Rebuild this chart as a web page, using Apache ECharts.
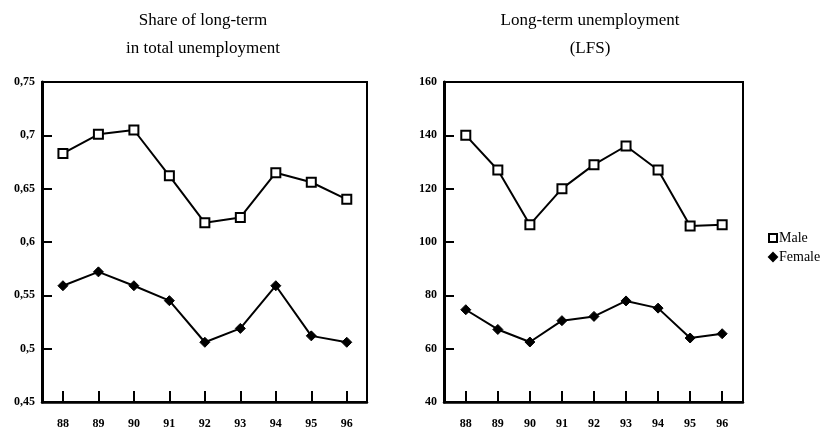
<!DOCTYPE html>
<html>
<head>
<meta charset="utf-8">
<script src="https://cdn.jsdelivr.net/npm/echarts@6/dist/echarts.min.js"></script>
<style>
  html, body { margin: 0; padding: 0; background: #fff; }
  #chart { width: 828px; height: 433px; }
</style>
</head>
<body>
<div id="chart"></div>
<script>
// Survey years (19xx)
const years = [88, 89, 90, 91, 92, 93, 94, 95, 96];

// Share of long-term in total unemployment
const shareMale   = [0.683, 0.701, 0.705, 0.662, 0.618, 0.623, 0.665, 0.656, 0.640];
const shareFemale = [0.559, 0.572, 0.559, 0.545, 0.506, 0.519, 0.559, 0.512, 0.506];

// Long-term unemployment (LFS), thousands
const ltuMale   = [140, 127, 106.5, 120, 129, 136, 127, 106, 106.5];
const ltuFemale = [74.6, 67.2, 62.5, 70.5, 72.1, 77.9, 75.2, 64, 65.6];

const serif = '"Liberation Serif", "DejaVu Serif", serif';
const pairs = (vals) => years.map((y, i) => [y, vals[i]]);

function xAxisFor(gridIndex, min, max) {
  return {
    type: 'value', gridIndex, min, max,
    splitLine: { show: false },
    axisLine: { show: true, onZero: false, lineStyle: { color: '#000', width: 2.5 } },
    axisTick: { show: true, inside: true, length: 11, customValues: years,
                lineStyle: { color: '#000', width: 2 } },
    axisLabel: { customValues: years, margin: 16, color: '#000',
                 fontFamily: serif, fontWeight: 'bold', fontSize: 12 }
  };
}

function yAxisFor(gridIndex, min, max, interval, fmt) {
  return {
    type: 'value', gridIndex, min, max, interval,
    splitLine: { show: false },
    axisLine: { show: true, onZero: false, lineStyle: { color: '#000', width: 3 } },
    axisTick: { show: true, inside: true, length: 10, lineStyle: { color: '#000', width: 2 } },
    axisLabel: { formatter: fmt, margin: 7, color: '#000',
                 fontFamily: serif, fontWeight: 'bold', fontSize: 12 }
  };
}

const maleStyle = {
  type: 'line', symbol: 'rect', symbolSize: 9,
  lineStyle: { color: '#000', width: 2 },
  itemStyle: { color: '#fff', borderColor: '#000', borderWidth: 2 },
  z: 3
};
const femaleStyle = {
  type: 'line', symbol: 'diamond', symbolSize: 10,
  lineStyle: { color: '#000', width: 2 },
  itemStyle: { color: '#000', borderColor: '#000', borderWidth: 1 },
  z: 3
};

const titleText = { fontFamily: serif, fontWeight: 'normal', fontSize: 17, lineHeight: 28, color: '#000' };

const option = {
  animation: false,
  backgroundColor: '#fff',
  title: [
    { text: 'Share of long-term\nin total unemployment', left: 198, top: 2, textAlign: 'center', textStyle: titleText },
    { text: 'Long-term unemployment\n(LFS)', left: 585, top: 2, textAlign: 'center', textStyle: titleText }
  ],
  legend: {
    orient: 'vertical', left: 763, top: 226,
    itemWidth: 8, itemHeight: 8, itemGap: 5,
    data: [{ name: 'Male', icon: 'rect' }, { name: 'Female', icon: 'diamond' }],
    textStyle: { fontFamily: serif, fontSize: 14, color: '#000', padding: [0, 0, 0, -3] }
  },
  grid: [
    { left: 42, right: 461, top: 82, bottom: 31, show: true, borderColor: '#000', borderWidth: 2 },
    { left: 444, right: 85, top: 82, bottom: 31, show: true, borderColor: '#000', borderWidth: 2 }
  ],
  xAxis: [ xAxisFor(0, 87.41, 96.57), xAxisFor(1, 87.32, 96.65) ],
  yAxis: [
    yAxisFor(0, 0.45, 0.75, 0.05, v => String(+v.toFixed(2)).replace('.', ',')),
    yAxisFor(1, 40, 160, 20, v => String(v))
  ],
  series: [
    Object.assign({ name: 'Male', xAxisIndex: 0, yAxisIndex: 0, data: pairs(shareMale) }, maleStyle),
    Object.assign({ name: 'Female', xAxisIndex: 0, yAxisIndex: 0, data: pairs(shareFemale) }, femaleStyle),
    Object.assign({ name: 'Male', xAxisIndex: 1, yAxisIndex: 1, data: pairs(ltuMale) }, maleStyle),
    Object.assign({ name: 'Female', xAxisIndex: 1, yAxisIndex: 1, data: pairs(ltuFemale) }, femaleStyle)
  ]
};

echarts.init(document.getElementById('chart'), null, { renderer: 'canvas' }).setOption(option);
</script>
</body>
</html>
